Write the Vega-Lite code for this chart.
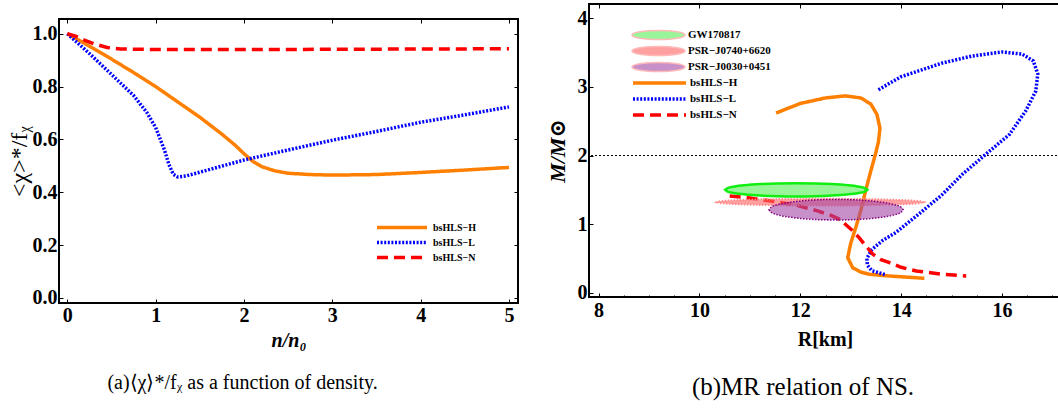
{
"$schema": "https://vega.github.io/schema/vega-lite/v6.json",
"background": "white",
"padding": {"left": 6, "top": 2, "right": 0, "bottom": 0},
"spacing": 25,
"config": {
  "view": {"stroke": "black", "strokeWidth": 2},
  "concat": {"spacing": 0},
  "style": {"guide-label": {"font": "Liberation Serif", "fontWeight": "bold", "fontSize": 20, "fill": "black"}},
  "axis": {"domain": false, "grid": false, "ticks": true, "tickColor": "black", "tickSize": -4, "tickWidth": 1, "labelFont": "Liberation Serif", "labelFontWeight": "bold", "labelFontSize": 20, "labelColor": "black", "labelFlush": false, "labelOverlap": false, "titleColor": "black", "titleFont": "Liberation Serif, DejaVu Serif", "titleFontSize": 20}
},
"datasets": {
  "chi": [
    {"series":"bsHLS−H","n":0,"v":1.0,"i":0},{"series":"bsHLS−H","n":0.25,"v":0.953,"i":1},{"series":"bsHLS−H","n":0.5,"v":0.904,"i":2},{"series":"bsHLS−H","n":0.75,"v":0.853,"i":3},{"series":"bsHLS−H","n":1.0,"v":0.8,"i":4},{"series":"bsHLS−H","n":1.25,"v":0.742,"i":5},{"series":"bsHLS−H","n":1.5,"v":0.684,"i":6},{"series":"bsHLS−H","n":1.75,"v":0.62,"i":7},{"series":"bsHLS−H","n":1.9,"v":0.578,"i":8},{"series":"bsHLS−H","n":2.0,"v":0.546,"i":9},{"series":"bsHLS−H","n":2.1,"v":0.517,"i":10},{"series":"bsHLS−H","n":2.2,"v":0.497,"i":11},{"series":"bsHLS−H","n":2.35,"v":0.481,"i":12},{"series":"bsHLS−H","n":2.5,"v":0.472,"i":13},{"series":"bsHLS−H","n":2.75,"v":0.467,"i":14},{"series":"bsHLS−H","n":3.0,"v":0.465,"i":15},{"series":"bsHLS−H","n":3.5,"v":0.467,"i":16},{"series":"bsHLS−H","n":4.0,"v":0.475,"i":17},{"series":"bsHLS−H","n":4.5,"v":0.484,"i":18},{"series":"bsHLS−H","n":5.0,"v":0.494,"i":19},
    {"series":"bsHLS−L","n":0,"v":1.0,"i":0},{"series":"bsHLS−L","n":0.25,"v":0.925,"i":1},{"series":"bsHLS−L","n":0.5,"v":0.846,"i":2},{"series":"bsHLS−L","n":0.75,"v":0.766,"i":3},{"series":"bsHLS−L","n":0.9,"v":0.702,"i":4},{"series":"bsHLS−L","n":1.0,"v":0.645,"i":5},{"series":"bsHLS−L","n":1.1,"v":0.56,"i":6},{"series":"bsHLS−L","n":1.15,"v":0.505,"i":7},{"series":"bsHLS−L","n":1.2,"v":0.468,"i":8},{"series":"bsHLS−L","n":1.25,"v":0.458,"i":9},{"series":"bsHLS−L","n":1.35,"v":0.462,"i":10},{"series":"bsHLS−L","n":1.5,"v":0.476,"i":11},{"series":"bsHLS−L","n":2.0,"v":0.522,"i":12},{"series":"bsHLS−L","n":2.5,"v":0.56,"i":13},{"series":"bsHLS−L","n":3.0,"v":0.597,"i":14},{"series":"bsHLS−L","n":3.5,"v":0.63,"i":15},{"series":"bsHLS−L","n":4.0,"v":0.665,"i":16},{"series":"bsHLS−L","n":4.5,"v":0.693,"i":17},{"series":"bsHLS−L","n":5.0,"v":0.723,"i":18},
    {"series":"bsHLS−N","n":0,"v":1.0,"i":0},{"series":"bsHLS−N","n":0.1,"v":0.99,"i":1},{"series":"bsHLS−N","n":0.2,"v":0.975,"i":2},{"series":"bsHLS−N","n":0.3,"v":0.962,"i":3},{"series":"bsHLS−N","n":0.45,"v":0.948,"i":4},{"series":"bsHLS−N","n":0.6,"v":0.942,"i":5},{"series":"bsHLS−N","n":1.0,"v":0.94,"i":6},{"series":"bsHLS−N","n":2.0,"v":0.94,"i":7},{"series":"bsHLS−N","n":3.0,"v":0.941,"i":8},{"series":"bsHLS−N","n":4.0,"v":0.942,"i":9},{"series":"bsHLS−N","n":5.0,"v":0.943,"i":10}
  ],
  "mr": [
    {"series":"bsHLS−H","R":11.52,"M":2.62,"i":0},{"series":"bsHLS−H","R":12.0,"M":2.76,"i":1},{"series":"bsHLS−H","R":12.5,"M":2.84,"i":2},{"series":"bsHLS−H","R":12.89,"M":2.87,"i":3},{"series":"bsHLS−H","R":13.2,"M":2.84,"i":4},{"series":"bsHLS−H","R":13.4,"M":2.75,"i":5},{"series":"bsHLS−H","R":13.52,"M":2.6,"i":6},{"series":"bsHLS−H","R":13.58,"M":2.4,"i":7},{"series":"bsHLS−H","R":13.55,"M":2.2,"i":8},{"series":"bsHLS−H","R":13.49,"M":2.02,"i":9},{"series":"bsHLS−H","R":13.4,"M":1.78,"i":10},{"series":"bsHLS−H","R":13.3,"M":1.5,"i":11},{"series":"bsHLS−H","R":13.2,"M":1.2,"i":12},{"series":"bsHLS−H","R":13.1,"M":0.95,"i":13},{"series":"bsHLS−H","R":13.0,"M":0.72,"i":14},{"series":"bsHLS−H","R":12.94,"M":0.51,"i":15},{"series":"bsHLS−H","R":13.04,"M":0.364,"i":16},{"series":"bsHLS−H","R":13.2,"M":0.3,"i":17},{"series":"bsHLS−H","R":13.37,"M":0.268,"i":18},{"series":"bsHLS−H","R":13.77,"M":0.243,"i":19},{"series":"bsHLS−H","R":14.46,"M":0.21,"i":20},
    {"series":"bsHLS−L","R":13.55,"M":2.96,"i":0},{"series":"bsHLS−L","R":14.0,"M":3.15,"i":1},{"series":"bsHLS−L","R":14.82,"M":3.35,"i":2},{"series":"bsHLS−L","R":15.4,"M":3.45,"i":3},{"series":"bsHLS−L","R":16.0,"M":3.51,"i":4},{"series":"bsHLS−L","R":16.4,"M":3.48,"i":5},{"series":"bsHLS−L","R":16.62,"M":3.38,"i":6},{"series":"bsHLS−L","R":16.71,"M":3.19,"i":7},{"series":"bsHLS−L","R":16.67,"M":2.94,"i":8},{"series":"bsHLS−L","R":16.47,"M":2.65,"i":9},{"series":"bsHLS−L","R":16.15,"M":2.31,"i":10},{"series":"bsHLS−L","R":15.68,"M":2.02,"i":11},{"series":"bsHLS−L","R":15.22,"M":1.73,"i":12},{"series":"bsHLS−L","R":14.8,"M":1.42,"i":13},{"series":"bsHLS−L","R":14.29,"M":1.11,"i":14},{"series":"bsHLS−L","R":13.9,"M":0.88,"i":15},{"series":"bsHLS−L","R":13.63,"M":0.76,"i":16},{"series":"bsHLS−L","R":13.42,"M":0.63,"i":17},{"series":"bsHLS−L","R":13.32,"M":0.5,"i":18},{"series":"bsHLS−L","R":13.33,"M":0.4,"i":19},{"series":"bsHLS−L","R":13.42,"M":0.32,"i":20},{"series":"bsHLS−L","R":13.7,"M":0.26,"i":21},
    {"series":"bsHLS−N","R":10.6,"M":1.41,"i":0},{"series":"bsHLS−N","R":11.0,"M":1.38,"i":1},{"series":"bsHLS−N","R":11.39,"M":1.34,"i":2},{"series":"bsHLS−N","R":11.9,"M":1.28,"i":3},{"series":"bsHLS−N","R":12.31,"M":1.2,"i":4},{"series":"bsHLS−N","R":12.6,"M":1.13,"i":5},{"series":"bsHLS−N","R":12.78,"M":1.07,"i":6},{"series":"bsHLS−N","R":13.0,"M":0.93,"i":7},{"series":"bsHLS−N","R":13.17,"M":0.8,"i":8},{"series":"bsHLS−N","R":13.3,"M":0.68,"i":9},{"series":"bsHLS−N","R":13.44,"M":0.56,"i":10},{"series":"bsHLS−N","R":13.6,"M":0.48,"i":11},{"series":"bsHLS−N","R":13.77,"M":0.437,"i":12},{"series":"bsHLS−N","R":14.0,"M":0.37,"i":13},{"series":"bsHLS−N","R":14.3,"M":0.316,"i":14},{"series":"bsHLS−N","R":14.8,"M":0.27,"i":15},{"series":"bsHLS−N","R":15.29,"M":0.243,"i":16}
  ],
  "ell": [
    {"obs":"GW170817","R":10.51,"lo":1.5,"hi":1.5},{"obs":"GW170817","R":10.558,"lo":1.475,"hi":1.525},{"obs":"GW170817","R":10.699,"lo":1.4515,"hi":1.5485},{"obs":"GW170817","R":10.923,"lo":1.4314,"hi":1.5686},{"obs":"GW170817","R":11.215,"lo":1.416,"hi":1.584},{"obs":"GW170817","R":11.555,"lo":1.4063,"hi":1.5937},{"obs":"GW170817","R":11.92,"lo":1.403,"hi":1.597},{"obs":"GW170817","R":12.285,"lo":1.4063,"hi":1.5937},{"obs":"GW170817","R":12.625,"lo":1.416,"hi":1.584},{"obs":"GW170817","R":12.917,"lo":1.4314,"hi":1.5686},{"obs":"GW170817","R":13.141,"lo":1.4515,"hi":1.5485},{"obs":"GW170817","R":13.282,"lo":1.475,"hi":1.525},{"obs":"GW170817","R":13.33,"lo":1.5,"hi":1.5},
    {"obs":"PSR−J0740+6620","R":10.35,"lo":1.32,"hi":1.32},{"obs":"PSR−J0740+6620","R":10.42,"lo":1.307,"hi":1.333},{"obs":"PSR−J0740+6620","R":10.625,"lo":1.295,"hi":1.345},{"obs":"PSR−J0740+6620","R":10.951,"lo":1.285,"hi":1.355},{"obs":"PSR−J0740+6620","R":11.375,"lo":1.277,"hi":1.363},{"obs":"PSR−J0740+6620","R":11.869,"lo":1.272,"hi":1.368},{"obs":"PSR−J0740+6620","R":12.4,"lo":1.27,"hi":1.37},{"obs":"PSR−J0740+6620","R":12.931,"lo":1.272,"hi":1.368},{"obs":"PSR−J0740+6620","R":13.425,"lo":1.277,"hi":1.363},{"obs":"PSR−J0740+6620","R":13.849,"lo":1.285,"hi":1.355},{"obs":"PSR−J0740+6620","R":14.175,"lo":1.295,"hi":1.345},{"obs":"PSR−J0740+6620","R":14.38,"lo":1.307,"hi":1.333},{"obs":"PSR−J0740+6620","R":14.45,"lo":1.32,"hi":1.32},
    {"obs":"PSR−J0030+0451","R":11.38,"lo":1.21,"hi":1.21},{"obs":"PSR−J0030+0451","R":11.425,"lo":1.171,"hi":1.249},{"obs":"PSR−J0030+0451","R":11.558,"lo":1.135,"hi":1.285},{"obs":"PSR−J0030+0451","R":11.77,"lo":1.104,"hi":1.316},{"obs":"PSR−J0030+0451","R":12.045,"lo":1.08,"hi":1.34},{"obs":"PSR−J0030+0451","R":12.366,"lo":1.065,"hi":1.355},{"obs":"PSR−J0030+0451","R":12.71,"lo":1.06,"hi":1.36},{"obs":"PSR−J0030+0451","R":13.054,"lo":1.065,"hi":1.355},{"obs":"PSR−J0030+0451","R":13.375,"lo":1.08,"hi":1.34},{"obs":"PSR−J0030+0451","R":13.65,"lo":1.104,"hi":1.316},{"obs":"PSR−J0030+0451","R":13.862,"lo":1.135,"hi":1.285},{"obs":"PSR−J0030+0451","R":13.995,"lo":1.171,"hi":1.249},{"obs":"PSR−J0030+0451","R":14.04,"lo":1.21,"hi":1.21}
  ],
  "ref": [{"M": 2}],
  "blank": []
},
"resolve": {"scale": {"stroke": "independent", "strokeDash": "independent", "fill": "independent", "x": "independent", "y": "independent"}, "legend": {"stroke": "independent", "strokeDash": "independent", "fill": "independent"}},
"hconcat": [
  {
    "spacing": 0,
    "resolve": {"scale": {"x": "independent", "y": "independent"}},
    "vconcat": [
      {
        "width": 459, "height": 13,
        "view": {"stroke": null, "fill": null},
        "data": {"name": "blank"},
        "mark": {"type": "point", "opacity": 0},
        "encoding": {}
      },
      {
        "width": 459, "height": 284,
        "title": {"text": "(a)⟨χ⟩*/fᵪ as a function of density.", "orient": "bottom", "anchor": "middle", "frame": "group", "dx": -46, "offset": 23, "font": "Liberation Serif", "fontSize": 20, "fontWeight": "normal", "color": "black"},
        "layer": [
          {
            "data": {"name": "chi"},
            "mark": {"type": "line", "strokeWidth": 3.5, "clip": true},
            "encoding": {
              "x": {"field": "n", "type": "quantitative", "scale": {"domain": [-0.094, 5.102], "nice": false, "zero": false},
                    "axis": {"values": [0,1,2,3,4,5], "format": "d", "labelFont": "Liberation Serif", "labelFontWeight": "bold", "labelFontSize": 20, "labelPadding": 6, "title": "n/n₀", "titleFont": "Liberation Serif, DejaVu Serif", "titleFontStyle": "italic", "titleFontWeight": "bold", "titleFontSize": 20, "titlePadding": 5,
                             "encode": {"labels": {"update": {"font": {"value": "Liberation Serif"}, "fontWeight": {"value": "bold"}}}}}},
              "y": {"field": "v", "type": "quantitative", "scale": {"domain": [-0.019, 1.0556], "nice": false, "zero": false},
                    "axis": {"values": [0,0.2,0.4,0.6,0.8,1.0], "format": ".1f", "labelFont": "Liberation Serif", "labelFontWeight": "bold", "labelFontSize": 20, "labelPadding": 6, "title": "<χ>*/fᵪ", "titleFont": "Liberation Serif", "titleFontWeight": "normal", "titleFontSize": 24, "titlePadding": 1,
                             "encode": {"labels": {"update": {"font": {"value": "Liberation Serif"}, "fontWeight": {"value": "bold"}}}}}},
              "stroke": {"field": "series", "type": "nominal", "scale": {"domain": ["bsHLS−H","bsHLS−L","bsHLS−N"], "range": ["#ff8000","#0000ff","#ff0000"]},
                    "legend": {"orient": "none", "legendX": 316, "legendY": 216, "title": null, "symbolType": "stroke", "symbolSize": 2500, "symbolStrokeWidth": 3.5, "clipHeight": 15, "labelFont": "Liberation Serif", "labelFontWeight": "bold", "labelFontSize": 10, "labelColor": "black", "labelOffset": 4, "padding": 0, "rowPadding": 0}},
              "strokeDash": {"field": "series", "type": "nominal", "scale": {"domain": ["bsHLS−H","bsHLS−L","bsHLS−N"], "range": [[1,0],[2,1.6],[11,6]]},
                    "legend": {"orient": "none", "legendX": 316, "legendY": 216, "title": null, "symbolType": "stroke", "symbolSize": 2500, "symbolStrokeWidth": 3.5, "clipHeight": 15, "labelFont": "Liberation Serif", "labelFontWeight": "bold", "labelFontSize": 10, "labelColor": "black", "labelOffset": 4, "padding": 0, "rowPadding": 0}},
              "order": {"field": "i", "type": "quantitative"}
            }
          },
          {
            "data": {"name": "chi"},
            "mark": {"type": "point", "opacity": 0},
            "encoding": {
              "x": {"field": "n", "type": "quantitative", "scale": {"domain": [-0.094, 5.102], "nice": false, "zero": false},
                    "axis": {"orient": "top", "values": [0,1,2,3,4,5], "labels": false, "title": null}},
              "y": {"field": "v", "type": "quantitative", "scale": {"domain": [-0.019, 1.0556], "nice": false, "zero": false},
                    "axis": {"orient": "right", "values": [0,0.2,0.4,0.6,0.8,1.0], "labels": false, "title": null}}
            }
          }
        ],
        "resolve": {"axis": {"x": "independent", "y": "independent"}}
      }
    ]
  },
  {
    "width": 472, "height": 293,
    "title": {"text": "(b)MR relation of NS.", "orient": "bottom", "anchor": "middle", "frame": "group", "dx": -22, "offset": 26, "font": "Liberation Serif", "fontSize": 25, "fontWeight": "normal", "color": "black"},
    "layer": [
      {
        "data": {"name": "ref"},
        "mark": {"type": "rule", "color": "black", "strokeWidth": 1, "strokeDash": [2, 2]},
        "encoding": {"y": {"field": "M", "type": "quantitative", "scale": {"domain": [-0.063, 4.21], "nice": false, "zero": false}, "axis": null}}
      },
      {
        "data": {"name": "mr"},
        "mark": {"type": "line", "strokeWidth": 3.5, "clip": true},
        "encoding": {
          "x": {"field": "R", "type": "quantitative", "scale": {"domain": [7.81, 17.17], "nice": false, "zero": false},
                "axis": {"values": [8,10,12,14,16], "format": "d", "labelFont": "Liberation Serif", "labelFontWeight": "bold", "labelFontSize": 20, "labelPadding": 7, "title": "R[km]", "titleFont": "Liberation Serif", "titleFontWeight": "bold", "titleFontSize": 20, "titlePadding": 9,
                         "encode": {"labels": {"update": {"font": {"value": "Liberation Serif"}, "fontWeight": {"value": "bold"}}}}}},
          "y": {"field": "M", "type": "quantitative", "scale": {"domain": [-0.063, 4.21], "nice": false, "zero": false},
                "axis": {"values": [0,1,2,3,4], "format": "d", "labelFont": "Liberation Serif", "labelFontWeight": "bold", "labelFontSize": 20, "labelPadding": 6, "title": "M/M⊙", "titleFont": "Liberation Serif, DejaVu Serif", "titleFontStyle": "italic", "titleFontWeight": "bold", "titleFontSize": 22, "titlePadding": 8,
                         "encode": {"labels": {"update": {"font": {"value": "Liberation Serif"}, "fontWeight": {"value": "bold"}}}}}},
          "stroke": {"field": "series", "type": "nominal", "scale": {"domain": ["bsHLS−H","bsHLS−L","bsHLS−N"], "range": ["#ff8000","#0000ff","#ff0000"]},
                "legend": {"orient": "none", "legendX": 42, "legendY": 71, "title": null, "symbolType": "stroke", "symbolSize": 2809, "symbolStrokeWidth": 3.5, "clipHeight": 16, "labelFont": "Liberation Serif", "labelFontWeight": "bold", "labelFontSize": 11, "labelColor": "black", "labelOffset": 2, "padding": 0, "rowPadding": 0}},
          "strokeDash": {"field": "series", "type": "nominal", "scale": {"domain": ["bsHLS−H","bsHLS−L","bsHLS−N"], "range": [[1,0],[2,1.6],[11,6]]},
                "legend": {"orient": "none", "legendX": 42, "legendY": 71, "title": null, "symbolType": "stroke", "symbolSize": 2809, "symbolStrokeWidth": 3.5, "clipHeight": 16, "labelFont": "Liberation Serif", "labelFontWeight": "bold", "labelFontSize": 11, "labelColor": "black", "labelOffset": 2, "padding": 0, "rowPadding": 0}},
          "order": {"field": "i", "type": "quantitative"}
        }
      },
      {
        "data": {"name": "ell"},
        "transform": [{"filter": "datum.obs === 'PSR−J0740+6620'"}],
        "mark": {"type": "area", "fillOpacity": 0.6, "stroke": "#ff8a8a", "strokeWidth": 2, "strokeDash": [1.5, 1.5], "interpolate": "monotone"},
        "encoding": {
          "x": {"field": "R", "type": "quantitative", "scale": {"domain": [7.81, 17.17], "nice": false, "zero": false}, "axis": null},
          "y": {"field": "lo", "type": "quantitative", "scale": {"domain": [-0.063, 4.21], "nice": false, "zero": false}, "axis": null},
          "y2": {"field": "hi"},
          "fill": {"field": "obs", "type": "nominal", "scale": {"domain": ["GW170817","PSR−J0740+6620","PSR−J0030+0451"], "range": ["#57ee57","#ff6161","#a346a3"]},
                "legend": {"orient": "none", "legendX": 42, "legendY": 23, "title": null, "symbolType": "M-1,0A1,0.17,0,1,1,1,0A1,0.17,0,1,1,-1,0Z", "symbolSize": 2809, "symbolOpacity": 0.6, "clipHeight": 16, "labelFont": "Liberation Serif", "labelFontWeight": "bold", "labelFontSize": 11, "labelColor": "black", "labelOffset": 2, "padding": 0, "rowPadding": 0}}
        }
      },
      {
        "data": {"name": "ell"},
        "transform": [{"filter": "datum.obs === 'PSR−J0030+0451'"}],
        "mark": {"type": "area", "fillOpacity": 0.6, "stroke": "#800080", "strokeWidth": 1.5, "strokeDash": [1.5, 1.5], "interpolate": "monotone"},
        "encoding": {
          "x": {"field": "R", "type": "quantitative", "scale": {"domain": [7.81, 17.17], "nice": false, "zero": false}, "axis": null},
          "y": {"field": "lo", "type": "quantitative", "scale": {"domain": [-0.063, 4.21], "nice": false, "zero": false}, "axis": null},
          "y2": {"field": "hi"},
          "fill": {"field": "obs", "type": "nominal", "scale": {"domain": ["GW170817","PSR−J0740+6620","PSR−J0030+0451"], "range": ["#57ee57","#ff6161","#a346a3"]}}
        }
      },
      {
        "data": {"name": "ell"},
        "transform": [{"filter": "datum.obs === 'GW170817'"}],
        "mark": {"type": "area", "fillOpacity": 0.6, "stroke": "#11ee11", "strokeWidth": 2.5, "interpolate": "monotone"},
        "encoding": {
          "x": {"field": "R", "type": "quantitative", "scale": {"domain": [7.81, 17.17], "nice": false, "zero": false}, "axis": null},
          "y": {"field": "lo", "type": "quantitative", "scale": {"domain": [-0.063, 4.21], "nice": false, "zero": false}, "axis": null},
          "y2": {"field": "hi"},
          "fill": {"field": "obs", "type": "nominal", "scale": {"domain": ["GW170817","PSR−J0740+6620","PSR−J0030+0451"], "range": ["#57ee57","#ff6161","#a346a3"]}}
        }
      },
      {
        "data": {"name": "mr"},
        "mark": {"type": "point", "opacity": 0},
        "encoding": {
          "x": {"field": "R", "type": "quantitative", "scale": {"domain": [7.81, 17.17], "nice": false, "zero": false},
                "axis": {"orient": "top", "values": [8,10,12,14,16], "labels": false, "title": null}},
          "y": {"field": "M", "type": "quantitative", "scale": {"domain": [-0.063, 4.21], "nice": false, "zero": false}, "axis": null}
        }
      },
      {
        "data": {"name": "mr"},
        "mark": {"type": "point", "opacity": 0},
        "encoding": {
          "x": {"field": "R", "type": "quantitative", "scale": {"domain": [7.81, 17.17], "nice": false, "zero": false},
                "axis": {"orient": "bottom", "values": [8.5,9,9.5,10.5,11,11.5,12.5,13,13.5,14.5,15,15.5,16.5,17], "labels": false, "tickSize": -2, "title": null}},
          "y": {"field": "M", "type": "quantitative", "scale": {"domain": [-0.063, 4.21], "nice": false, "zero": false}, "axis": null}
        }
      }
    ],
    "resolve": {"axis": {"x": "independent", "y": "independent"}}
  }
]
}
